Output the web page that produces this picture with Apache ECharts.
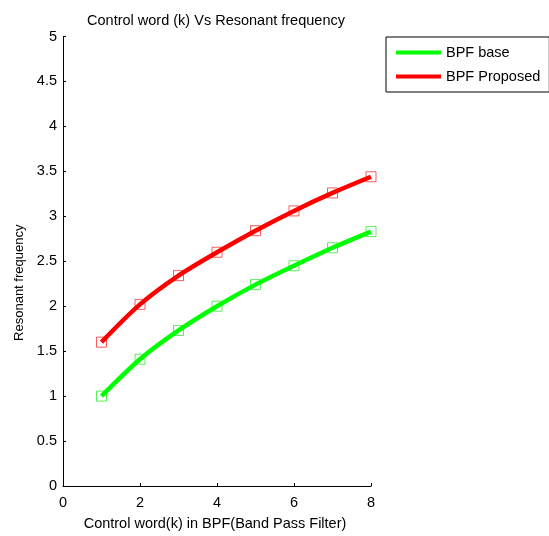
<!DOCTYPE html>
<html>
<head>
<meta charset="utf-8">
<script src="https://cdn.jsdelivr.net/npm/echarts@6/dist/echarts.min.js"></script>
<style>
html,body{margin:0;padding:0;background:#fff;}
#chart{width:549px;height:536px;}
</style>
</head>
<body>
<div id="chart"></div>
<script>
var controlWords = [1, 2, 3, 4, 5, 6, 7, 8];
var bpfBase = [1.0, 1.41, 1.73, 2.0, 2.24, 2.45, 2.65, 2.83];
var bpfProposed = [1.6, 2.02, 2.34, 2.6, 2.84, 3.06, 3.26, 3.44];
var xTicks = [0, 2, 4, 6, 8];
var yTicks = [0, 0.5, 1, 1.5, 2, 2.5, 3, 3.5, 4, 4.5, 5];

function pairs(xs, ys) { return xs.map(function (x, i) { return [x, ys[i]]; }); }

var FONT = 'Liberation Sans, Arial, sans-serif';
var chart = echarts.init(document.getElementById('chart'), null, {renderer: 'canvas'});
chart.setOption({
  animation: false,
  backgroundColor: '#fff',
  title: {
    text: 'Control word (k) Vs Resonant frequency',
    left: 211, top: 8, textAlign: 'center',
    textStyle: {fontFamily: FONT, fontSize: 14.5, fontWeight: 'normal', color: '#000'}
  },
  grid: {left: 63, right: 178, top: 36.5, bottom: 48.5, containLabel: false},
  legend: {
    orient: 'vertical', left: 386, top: 37,
    data: ['BPF base', 'BPF Proposed'],
    icon: 'rect', itemWidth: 45, itemHeight: 4, itemGap: 9,
    padding: [8, 9, 8, 10],
    borderColor: '#000', borderWidth: 1, backgroundColor: '#fff',
    textStyle: {fontFamily: FONT, fontSize: 14.5, color: '#000', lineHeight: 15}
  },
  xAxis: {
    type: 'value', min: 0, max: 8, interval: 2,
    name: 'Control word(k) in BPF(Band Pass Filter)',
    nameLocation: 'middle', nameGap: 30,
    nameTextStyle: {fontFamily: FONT, fontSize: 14.5, color: '#000', padding: [0, 4, 0, 0]},
    axisLine: {show: true, onZero: false, lineStyle: {color: '#000', width: 1}},
    axisTick: {show: true, inside: true, length: 3, lineStyle: {color: '#000'}},
    axisLabel: {fontFamily: FONT, fontSize: 14.5, color: '#000', margin: 9,
      formatter: function (v) { return xTicks.indexOf(v) >= 0 ? String(v) : ''; }},
    splitLine: {show: false}
  },
  yAxis: {
    type: 'value', min: 0, max: 5, interval: 0.5,
    name: 'Resonant frequency',
    nameLocation: 'middle', nameGap: 35,
    nameTextStyle: {fontFamily: FONT, fontSize: 13, color: '#000', padding: [0, 43, 0, 0]},
    axisLine: {show: true, onZero: false, lineStyle: {color: '#000', width: 1}},
    axisTick: {show: true, inside: true, length: 3, lineStyle: {color: '#000'}},
    axisLabel: {fontFamily: FONT, fontSize: 14.5, color: '#000', margin: 6,
      formatter: function (v) { return yTicks.indexOf(v) >= 0 ? String(v) : ''; }},
    splitLine: {show: false}
  },
  series: [
    {
      name: 'BPF base markers', type: 'scatter', z: 1,
      data: pairs(controlWords, bpfBase),
      symbol: 'rect', symbolSize: 10,
      itemStyle: {color: 'rgba(0,0,0,0)', borderColor: 'rgba(0,230,0,0.8)', borderWidth: 1},
      silent: true
    },
    {
      name: 'BPF Proposed markers', type: 'scatter', z: 1,
      data: pairs(controlWords, bpfProposed),
      symbol: 'rect', symbolSize: 10,
      itemStyle: {color: 'rgba(0,0,0,0)', borderColor: 'rgba(245,0,0,0.8)', borderWidth: 1},
      silent: true
    },
    {
      name: 'BPF base', type: 'line', z: 2, smooth: 0.3,
      data: pairs(controlWords, bpfBase),
      showSymbol: false, symbol: 'none',
      lineStyle: {color: '#00ff00', width: 4.5},
      itemStyle: {color: '#00ff00'}
    },
    {
      name: 'BPF Proposed', type: 'line', z: 2, smooth: 0.3,
      data: pairs(controlWords, bpfProposed),
      showSymbol: false, symbol: 'none',
      lineStyle: {color: '#ff0000', width: 4.5},
      itemStyle: {color: '#ff0000'}
    }
  ]
});
</script>
</body>
</html>
